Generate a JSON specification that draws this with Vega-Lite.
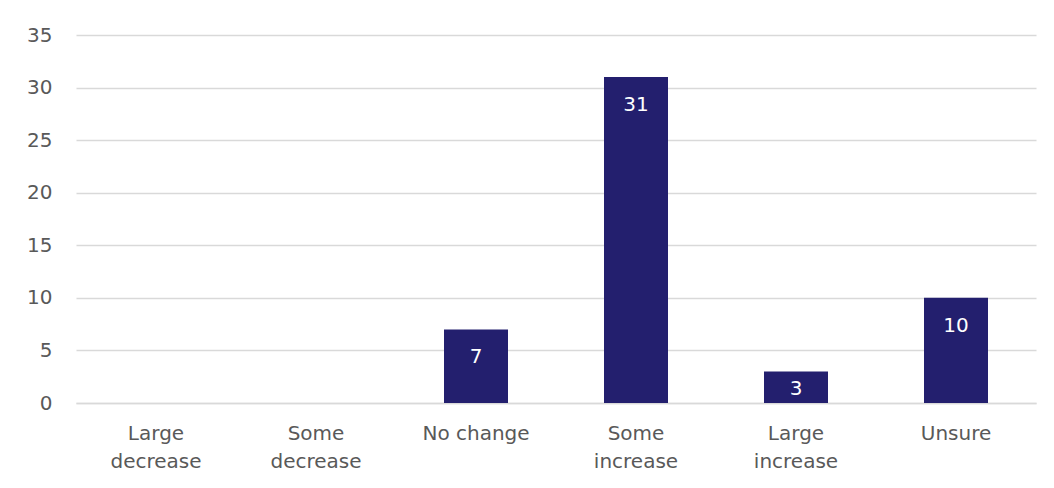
{
  "$schema": "https://vega.github.io/schema/vega-lite/v6.json",
  "width": 960,
  "height": 368,
  "autosize": "none",
  "padding": {"left": 76, "top": 35, "right": 18, "bottom": 85},
  "background": "white",
  "config": {"view": {"stroke": null}, "font": "DejaVu Sans"},
  "data": {"values": [
    {"category": "Large decrease", "count": 0},
    {"category": "Some decrease", "count": 0},
    {"category": "No change", "count": 7},
    {"category": "Some increase", "count": 31},
    {"category": "Large increase", "count": 3},
    {"category": "Unsure", "count": 10}
  ]},
  "encoding": {
    "x": {"field": "category", "type": "nominal", "sort": null,
      "scale": {"paddingInner": 0.6, "paddingOuter": 0.3},
      "axis": {"title": null, "labelAngle": 0, "ticks": false, "domainColor": "#d9d9d9", "domainWidth": 1.5,
        "labelFontSize": 20, "labelColor": "#595959", "labelPadding": 20, "labelLineHeight": 28,
        "labelExpr": "datum.label == 'No change' ? datum.label : split(datum.label, ' ')"}},
    "y": {"field": "count", "type": "quantitative",
      "scale": {"domain": [0, 35]},
      "axis": {"title": null, "values": [0,5,10,15,20,25,30,35], "ticks": false, "domain": false,
        "gridColor": "#d9d9d9", "gridWidth": 1.5, "labelFontSize": 20, "labelColor": "#595959", "labelPadding": 24}}
  },
  "layer": [
    {"mark": {"type": "bar", "color": "#231F6E"}},
    {"transform": [{"filter": "datum.count > 0"}, {"calculate": "max(datum.count - 2.66, 1.33)", "as": "labelPos"}],
     "mark": {"type": "text", "color": "white", "fontSize": 20, "baseline": "middle"},
     "encoding": {
       "y": {"field": "labelPos", "type": "quantitative"},
       "text": {"field": "count", "type": "quantitative"}}}
  ]
}
